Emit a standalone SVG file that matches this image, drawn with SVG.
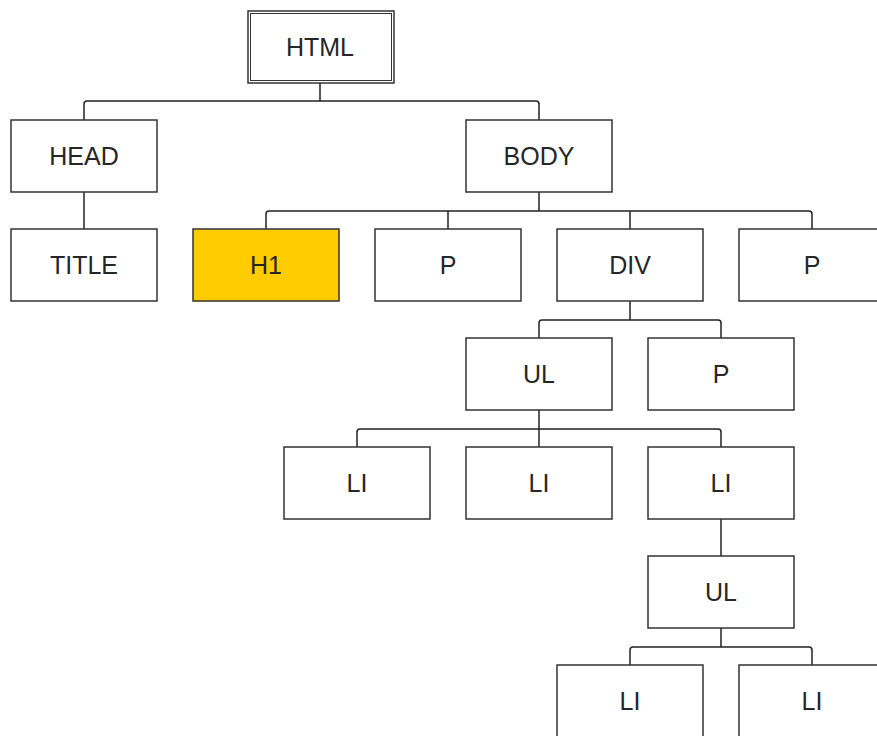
<svg xmlns="http://www.w3.org/2000/svg" width="877" height="736" viewBox="0 0 877 736">
<style>
.box{fill:#fff;stroke:#333;stroke-width:1.5}
.hl{fill:#ffcc00;stroke:#333;stroke-width:1.5}
.inner{fill:none;stroke:#333;stroke-width:1}
.lbl{font-family:"Liberation Sans",Arial,sans-serif;font-size:25px;fill:#262626;text-anchor:middle}
.conn path{fill:none;stroke:#222;stroke-width:1.5}
</style>
<rect width="877" height="736" fill="#fff"/>
<g id="connectors" class="conn">
<path d="M320,83 V101"/>
<path d="M84,120 V104 Q84,101 87,101 H536 Q539,101 539,104 V120"/>
<path d="M84,192 V229"/>
<path d="M539,192 V211"/>
<path d="M266,229 V214 Q266,211 269,211 H809 Q812,211 812,214 V229"/>
<path d="M448,211 V229"/>
<path d="M630,211 V229"/>
<path d="M630,301 V320"/>
<path d="M539,338 V323 Q539,320 542,320 H718 Q721,320 721,323 V338"/>
<path d="M539,410 V447"/>
<path d="M357,447 V432 Q357,429 360,429 H718 Q721,429 721,432 V447"/>
<path d="M721,519 V556"/>
<path d="M721,628 V647"/>
<path d="M630,665 V650 Q630,647 633,647 H809 Q812,647 812,650 V665"/>
</g>
<g id="n-html"><rect class="box" x="248" y="11" width="146" height="72"/><rect class="inner" x="250.5" y="13.5" width="141" height="67"/><text class="lbl" x="320" y="56">HTML</text></g>
<g id="n-head"><rect class="box" x="11" y="120" width="146" height="72"/><text class="lbl" x="84" y="165">HEAD</text></g>
<g id="n-body"><rect class="box" x="466" y="120" width="146" height="72"/><text class="lbl" x="539" y="165">BODY</text></g>
<g id="n-title"><rect class="box" x="11" y="229" width="146" height="72"/><text class="lbl" x="84" y="274">TITLE</text></g>
<g id="n-h1"><rect class="hl" x="193" y="229" width="146" height="72"/><text class="lbl" x="266" y="274">H1</text></g>
<g id="n-p1"><rect class="box" x="375" y="229" width="146" height="72"/><text class="lbl" x="448" y="274">P</text></g>
<g id="n-div"><rect class="box" x="557" y="229" width="146" height="72"/><text class="lbl" x="630" y="274">DIV</text></g>
<g id="n-p2"><rect class="box" x="739" y="229" width="146" height="72"/><text class="lbl" x="812" y="274">P</text></g>
<g id="n-ul1"><rect class="box" x="466" y="338" width="146" height="72"/><text class="lbl" x="539" y="383">UL</text></g>
<g id="n-p3"><rect class="box" x="648" y="338" width="146" height="72"/><text class="lbl" x="721" y="383">P</text></g>
<g id="n-li1"><rect class="box" x="284" y="447" width="146" height="72"/><text class="lbl" x="357" y="492">LI</text></g>
<g id="n-li2"><rect class="box" x="466" y="447" width="146" height="72"/><text class="lbl" x="539" y="492">LI</text></g>
<g id="n-li3"><rect class="box" x="648" y="447" width="146" height="72"/><text class="lbl" x="721" y="492">LI</text></g>
<g id="n-ul2"><rect class="box" x="648" y="556" width="146" height="72"/><text class="lbl" x="721" y="601">UL</text></g>
<g id="n-li4"><rect class="box" x="557" y="665" width="146" height="72"/><text class="lbl" x="630" y="710">LI</text></g>
<g id="n-li5"><rect class="box" x="739" y="665" width="146" height="72"/><text class="lbl" x="812" y="710">LI</text></g>
</svg>
